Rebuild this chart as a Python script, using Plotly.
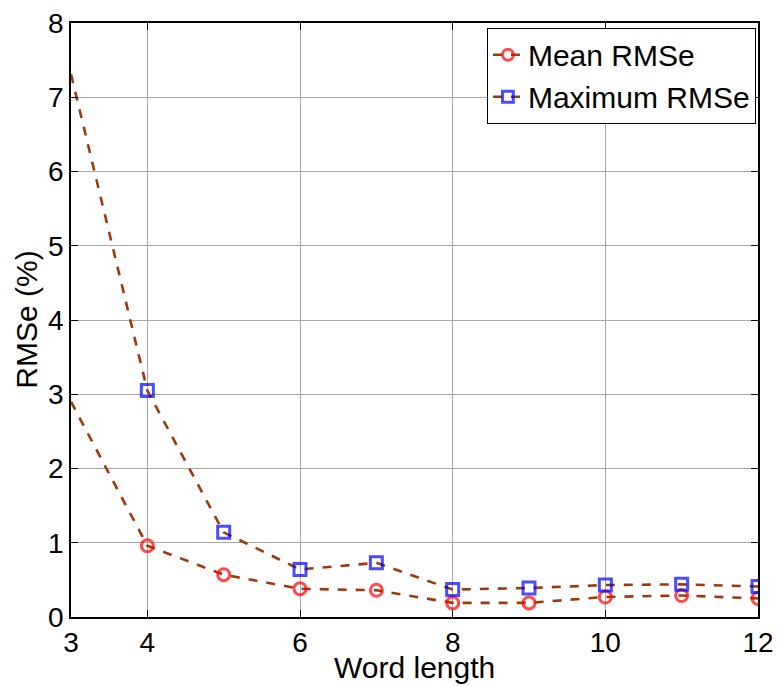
import plotly.graph_objects as go

word_length = [3, 4, 5, 6, 7, 8, 9, 10, 11, 12]
mean_rmse = [2.90, 0.96, 0.57, 0.38, 0.36, 0.19, 0.19, 0.27, 0.29, 0.25]
max_rmse = [7.31, 3.05, 1.14, 0.64, 0.73, 0.37, 0.39, 0.43, 0.44, 0.41]

x_ticks = [3, 4, 6, 8, 10, 12]
y_ticks = [0, 1, 2, 3, 4, 5, 6, 7, 8]

line_color = "#9E3A0A"
font_family = "Liberation Sans, Arial, sans-serif"

# the point on the left axis edge is drawn as line only
marker_sizes = [0 if x == word_length[0] else 12 for x in word_length]

fig = go.Figure()
fig.add_trace(go.Scatter(
    x=word_length, y=mean_rmse, name="Mean RMSe",
    mode="lines+markers",
    line=dict(color=line_color, width=2.6, dash="dash"),
    marker=dict(symbol="circle", size=marker_sizes, color="rgba(0,0,0,0)",
                line=dict(width=3, color="#FF0000")),
))
fig.add_trace(go.Scatter(
    x=word_length, y=max_rmse, name="Maximum RMSe",
    mode="lines+markers",
    line=dict(color=line_color, width=2.6, dash="dash"),
    marker=dict(symbol="square", size=marker_sizes, color="rgba(0,0,0,0)",
                line=dict(width=3, color="#0000FF")),
))

axis_common = dict(
    showline=True, linecolor="black", linewidth=1.5, mirror="ticks",
    ticks="inside", ticklen=7, tickwidth=1, tickcolor="black",
    showgrid=True, gridcolor="#a8a8a8", gridwidth=1,
    zeroline=False, automargin=False,
    tickfont=dict(family=font_family, size=28, color="black"),
)

fig.update_xaxes(range=[3, 12], tickvals=x_ticks, **axis_common)
fig.update_yaxes(range=[0, 8], tickvals=y_ticks, **axis_common)

title_font = dict(family=font_family, size=30, color="black")

# axis titles placed next to the tick labels
fig.add_annotation(
    text="Word length", xref="paper", yref="paper", x=0.5, y=-0.1162,
    xanchor="center", yanchor="bottom", showarrow=False, font=title_font,
)
fig.add_annotation(
    text="RMSe (%)", xref="paper", yref="paper", x=-0.066, y=0.5,
    xanchor="center", yanchor="middle", textangle=-90, showarrow=False, font=title_font,
)

fig.update_layout(
    width=777, height=686,
    margin=dict(l=71, r=19, t=23, b=69),
    plot_bgcolor="white", paper_bgcolor="white",
    font=dict(family=font_family, size=30, color="black"),
    legend=dict(
        x=0.997, y=0.992, xanchor="right", yanchor="top",
        bgcolor="white", bordercolor="black", borderwidth=1,
        font=dict(family=font_family, size=30, color="black"),
        tracegroupgap=0, itemwidth=30,
    ),
)

fig.write_html("out.html")
